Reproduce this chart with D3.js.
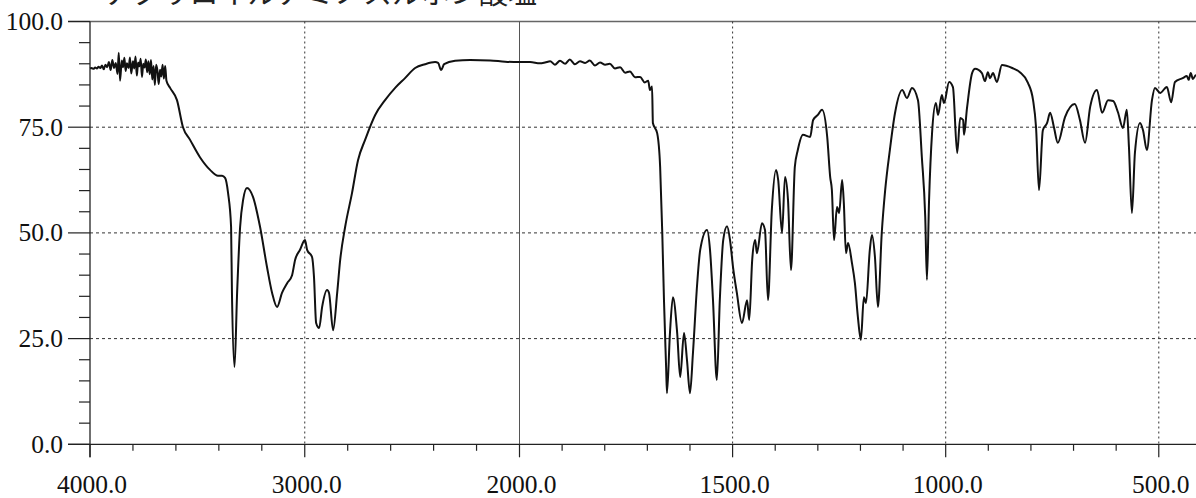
<!DOCTYPE html>
<html><head><meta charset="utf-8">
<script src="https://cdn.jsdelivr.net/npm/d3@7"></script>
<style>html,body{margin:0;padding:0;background:#fff;overflow:hidden}</style>
</head><body>
<svg id="c" width="1196" height="498"></svg>
<script>
const titleText = "アクリロイルアミノスルホン酸塩";
const yMajorTicks = [0, 25, 50, 75, 100];
const yTickLabels = ["0.0", "25.0", "50.0", "75.0", "100.0"];
const xMajorTicks = [4000, 3000, 2000, 1500, 1000, 500];
const xTickLabels = ["4000.0", "3000.0", "2000.0", "1500.0", "1000.0", "500.0"];
const wavenumber = [
4000,3992,3984,3976,3968,3960,3952,3944,3936,3928,3920,3912,3904,3896,3888,3880,3872,3866,3860,3852,
3846,3840,3834,3828,3820,3814,3808,3800,3794,3788,3782,3776,3770,3764,3758,3752,3746,3740,3734,3728,
3722,3716,3710,3704,3698,3692,3686,3680,3674,3668,3662,3656,3650,3644,
3627,3595,3567,3534,3488,3441,3404,3385,3371,3357,3343,3339,3327,3315,3301,3287,3269,3241,3208,3176,
3152,3129,3106,3082,3059,3045,3022,2999,2989,2966,2957,2947,2933,2919,2896,2887,2868,2849,2835,2812,
2780,2752,2719,2672,2626,2579,2533,2486,2440,2393,2379,2365,2351,2300,2230,2137,2067,2000,
1975,1952,1940,1928,1917,1905,1893,1882,1870,1858,1846,1835,1823,1811,1799,1788,1776,1764,1752,1741,
1729,1717,1706,1698,1694,1689,1687,1677,1670,1665,1661,1656,1654,1647,1640,1630,1623,1614,1607,1600,
1593,1583,1576,1560,1553,1546,1537,1530,1522,1513,1506,1499,1490,1478,1466,1461,1454,1447,1443,1431,
1424,1417,1408,1398,1393,1384,1377,1370,1363,1354,1347,1335,1318,1311,1300,1290,1278,1271,1267,1262,
1255,1250,1243,1239,1234,1229,1220,1213,1206,1199,1192,1187,1178,1173,1166,1159,1150,1142,1131,1119,
1102,1091,1079,1065,1056,1048,1044,1039,1032,1023,1018,1009,1004,992,983,973,966,959,957,950,
938,931,915,908,901,896,889,880,868,844,826,807,795,788,781,772,762,755,746,737,
720,697,685,673,661,645,633,619,607,596,584,575,570,563,556,544,537,528,516,509,
497,481,471,462,444,434,430,425,420,413,406
];
const transmittance = [
88.9,89.0,88.8,89.1,88.9,89.3,89.0,89.6,88.7,89.8,89.2,90.4,88.5,90.9,89.0,90.2,87.6,92.6,86.0,90.8,
89.2,91.4,88.3,90.1,89.0,91.5,87.7,90.6,88.9,91.7,87.2,90.3,89.4,91.2,86.9,90.0,89.1,91.0,88.0,90.6,
87.5,90.9,86.3,89.5,85.0,89.8,88.4,85.2,88.6,87.0,89.8,86.5,89.5,86.0,
84.3,81.4,75.0,72.0,67.9,64.9,63.5,63.5,63.0,59.4,51.4,35.8,18.3,35.8,51.4,57.8,60.6,58.5,51.4,42.0,
35.8,32.5,35.8,38.1,40.0,43.6,46.0,48.3,46.0,44.3,39.6,28.7,27.5,32.5,36.5,35.8,27.0,35.8,43.6,51.4,
59.4,67.2,72.0,77.9,81.4,84.3,86.6,89.0,89.9,90.4,90.2,88.5,89.9,90.7,90.9,90.8,90.5,90.4,
90.4,90.1,90.3,90.6,89.8,90.7,90.0,91.0,89.9,90.6,90.2,90.8,89.6,90.3,89.8,90.0,88.9,89.2,87.9,88.2,
86.8,86.9,85.6,86.0,83.8,84.6,76.0,73.6,65.6,50.0,34.1,18.3,12.1,26.3,34.8,26.3,15.9,26.3,19.9,12.1,
21.6,38.1,46.0,50.7,46.0,34.1,15.2,34.1,48.3,51.6,48.3,41.9,35.8,28.7,34.1,29.4,43.6,48.3,45.2,52.3,
50.7,34.1,55.4,64.9,62.5,50.0,63.2,57.8,41.2,65.6,69.6,73.2,72.7,76.7,77.9,79.1,72.7,63.2,60.1,48.3,
56.1,54.7,62.5,57.1,45.2,47.6,42.9,38.1,30.1,24.7,34.8,33.4,46.0,49.5,44.3,32.5,50.0,60.1,69.6,78.3,
83.8,81.9,84.3,81.4,68.0,53.8,38.9,57.8,73.6,80.7,77.9,82.6,80.7,85.7,84.5,68.9,77.2,76.7,73.2,79.5,
87.8,88.8,87.8,85.9,88.0,86.6,87.8,85.7,89.7,89.0,88.0,85.5,81.4,75.0,60.1,74.3,76.0,78.4,75.0,71.3,
77.4,80.5,76.7,71.3,79.8,83.8,78.4,81.4,81.2,78.6,74.8,79.1,70.3,54.7,68.9,76.0,74.3,69.6,81.4,84.3,
83.1,84.5,80.9,85.7,86.6,87.1,86.2,87.8,86.4,87.3,87.0
];

const svg = d3.select("#c");
const x = d3.scaleLinear().domain([4000, 2000, 400]).range([90, 519.5, 1201.4]);
const y = d3.scaleLinear().domain([0, 100]).range([444.3, 21.5]);
const serif = "'Liberation Serif','Times New Roman',serif";

// title (cut off at top, as in the source)
svg.append("text").attr("x", 104).attr("y", 4)
  .attr("font-family", "'Noto Sans CJK JP',sans-serif").attr("font-size", 29)
  .attr("fill", "#222").text(titleText);

// horizontal grid
svg.append("g").selectAll("line").data([25, 50, 75]).join("line")
  .attr("x1", 90).attr("x2", 1196).attr("y1", d => y(d)).attr("y2", d => y(d))
  .attr("stroke", "#333").attr("stroke-width", 1).attr("stroke-dasharray", "3,3");
// top border at 100
svg.append("line").attr("x1", 68).attr("x2", 1196).attr("y1", y(100)).attr("y2", y(100))
  .attr("stroke", "#666").attr("stroke-width", 1.5);

// vertical grid
svg.append("g").selectAll("line").data([3000, 2000, 1500, 1000, 500]).join("line")
  .attr("x1", d => x(d)).attr("x2", d => x(d)).attr("y1", y(100)).attr("y2", y(0))
  .attr("stroke", d => d === 2000 ? "#555" : "#333").attr("stroke-width", 1)
  .attr("stroke-dasharray", d => d === 2000 ? null : "2,3");

// y axis
const yMinor = d3.range(5, 100, 5).filter(v => v % 25 !== 0);
svg.append("line").attr("x1", 90).attr("x2", 90).attr("y1", y(100)).attr("y2", y(0) + 13)
  .attr("stroke", "#222").attr("stroke-width", 1.3);
svg.append("g").selectAll("line").data(yMinor).join("line")
  .attr("x1", 79).attr("x2", 90).attr("y1", d => y(d)).attr("y2", d => y(d))
  .attr("stroke", "#222").attr("stroke-width", 1.2);
svg.append("g").selectAll("line").data(yMajorTicks).join("line")
  .attr("x1", 68).attr("x2", 90).attr("y1", d => y(d)).attr("y2", d => y(d))
  .attr("stroke", "#222").attr("stroke-width", 1.2);
svg.append("g").selectAll("text").data(yMajorTicks).join("text")
  .attr("x", 63).attr("y", d => y(d) + 8.5).attr("text-anchor", "end")
  .attr("font-family", serif).attr("font-size", 25.5).attr("fill", "#111")
  .text((d, i) => yTickLabels[i]);

// x axis
svg.append("line").attr("x1", 68).attr("x2", 1196).attr("y1", y(0)).attr("y2", y(0))
  .attr("stroke", "#222").attr("stroke-width", 1.3);
const xMinor = d3.range(3800, 2000, -200).concat(d3.range(1900, 399, -100))
  .filter(v => !xMajorTicks.includes(v));
svg.append("g").selectAll("line").data(xMinor).join("line")
  .attr("x1", d => x(d)).attr("x2", d => x(d)).attr("y1", y(0)).attr("y2", y(0) + 6.5)
  .attr("stroke", "#222").attr("stroke-width", 1.2);
svg.append("g").selectAll("line").data(xMajorTicks).join("line")
  .attr("x1", d => x(d)).attr("x2", d => x(d)).attr("y1", y(0)).attr("y2", y(0) + 13)
  .attr("stroke", "#222").attr("stroke-width", 1.2);
svg.append("g").selectAll("text").data(xMajorTicks).join("text")
  .attr("x", d => x(d) + 2).attr("y", 493).attr("text-anchor", "middle")
  .attr("font-family", serif).attr("font-size", 25.5).attr("fill", "#111")
  .text((d, i) => xTickLabels[i]);

// spectrum
const pts = wavenumber.map((w, i) => [w, transmittance[i]]);
svg.append("path").datum(pts)
  .attr("d", d3.line().x(d => x(d[0])).y(d => y(d[1])).curve(d3.curveMonotoneX))
  .attr("fill", "none").attr("stroke", "#111").attr("stroke-width", 2)
  .attr("stroke-linejoin", "round");
</script>
</body></html>
